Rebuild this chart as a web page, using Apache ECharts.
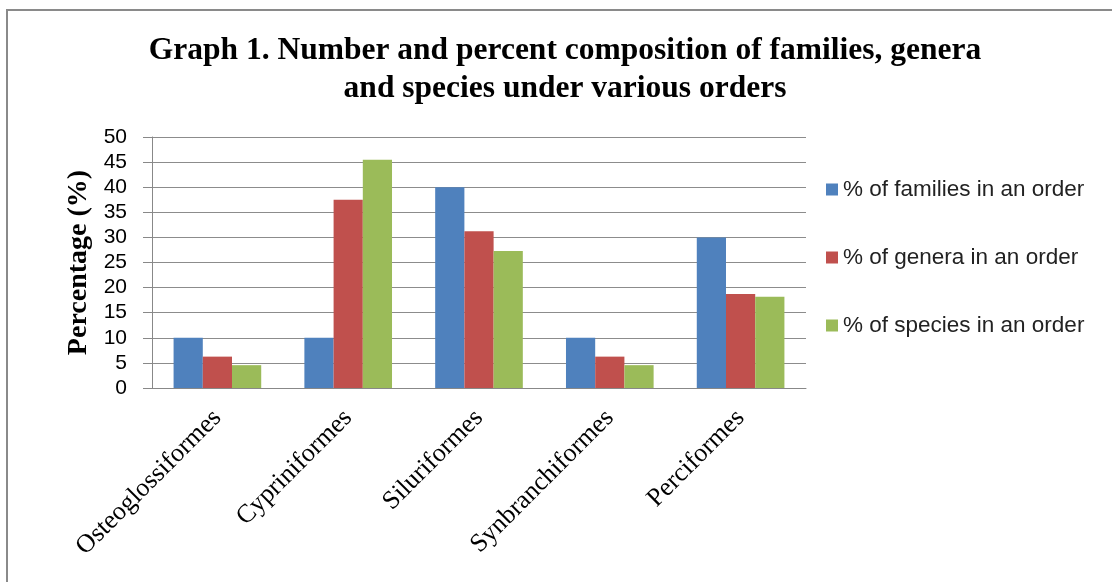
<!DOCTYPE html>
<html>
<head>
<meta charset="utf-8">
<script src="https://cdn.jsdelivr.net/npm/echarts@6/dist/echarts.min.js"></script>
<style>
  html, body { margin: 0; padding: 0; background: #fff; }
  #chart { width: 1112px; height: 582px; }
</style>
</head>
<body>
<div id="chart"></div>
<script>
// Orders of fish and their share of families, genera and species
const orders = ['Osteoglossiformes', 'Cypriniformes', 'Siluriformes', 'Synbranchiformes', 'Perciformes'];
const familiesPct = [10, 10, 40, 10, 30];
const generaPct = [6.25, 37.5, 31.25, 6.25, 18.75];
const speciesPct = [4.55, 45.45, 27.27, 4.55, 18.18];
const seriesNames = ['% of families in an order', '% of genera in an order', '% of species in an order'];
const yTicks = { min: 0, max: 50, interval: 5 };

const colors = ['#4F81BD', '#C0504D', '#9BBB59'];
const serif = '"Liberation Serif", "Times New Roman", serif';
const sans = '"Liberation Sans", Arial, sans-serif';

const chart = echarts.init(document.getElementById('chart'));

function barSeries(name, data, color) {
  return {
    name: name,
    type: 'bar',
    data: data,
    barGap: '0%',
    barCategoryGap: '33%',
    itemStyle: { color: color },
    emphasis: { disabled: true }
  };
}

chart.setOption({
  animation: false,
  color: colors,
  graphic: [
    {
      type: 'rect',
      shape: { x: 7, y: 10, width: 1200, height: 700 },
      style: { fill: 'none', stroke: '#8a8a8a', lineWidth: 2 },
      silent: true
    },
    {
      type: 'text',
      x: 565,
      y: 70,
      style: {
        text: 'Graph 1. Number and percent composition of families, genera\nand species under various orders',
        align: 'center',
        verticalAlign: 'middle',
        font: 'bold 31.5px ' + serif,
        lineHeight: 38,
        fill: '#000'
      },
      silent: true
    }
  ],
  grid: { left: 152, right: 306, top: 137, bottom: 194, containLabel: false },
  legend: {
    orient: 'vertical',
    left: 826,
    top: 178,
    padding: 0,
    itemWidth: 12,
    itemHeight: 12,
    itemGap: 45,
    icon: 'rect',
    data: seriesNames,
    textStyle: { fontFamily: sans, fontSize: 22.5, color: '#222', lineHeight: 22 }
  },
  xAxis: {
    type: 'category',
    data: orders,
    axisLine: { lineStyle: { color: '#888', width: 1 } },
    axisTick: { show: false },
    axisLabel: {
      rotate: 45,
      interval: 0,
      margin: 26,
      fontFamily: serif,
      fontSize: 26,
      color: '#000'
    }
  },
  yAxis: {
    type: 'value',
    min: yTicks.min,
    max: yTicks.max,
    interval: yTicks.interval,
    name: 'Percentage (%)',
    nameLocation: 'middle',
    nameGap: 59,
    nameRotate: 90,
    nameTextStyle: { fontFamily: serif, fontSize: 28, fontWeight: 'bold', color: '#000' },
    axisLine: { show: true, lineStyle: { color: '#888', width: 1 } },
    axisTick: { show: true, length: 9, lineStyle: { color: '#888' } },
    axisLabel: { margin: 25, fontFamily: sans, fontSize: 21, color: '#000' },
    splitLine: { lineStyle: { color: '#8c8c8c', width: 1 } }
  },
  series: [
    barSeries(seriesNames[0], familiesPct, colors[0]),
    barSeries(seriesNames[1], generaPct, colors[1]),
    barSeries(seriesNames[2], speciesPct, colors[2])
  ]
});
</script>
</body>
</html>
